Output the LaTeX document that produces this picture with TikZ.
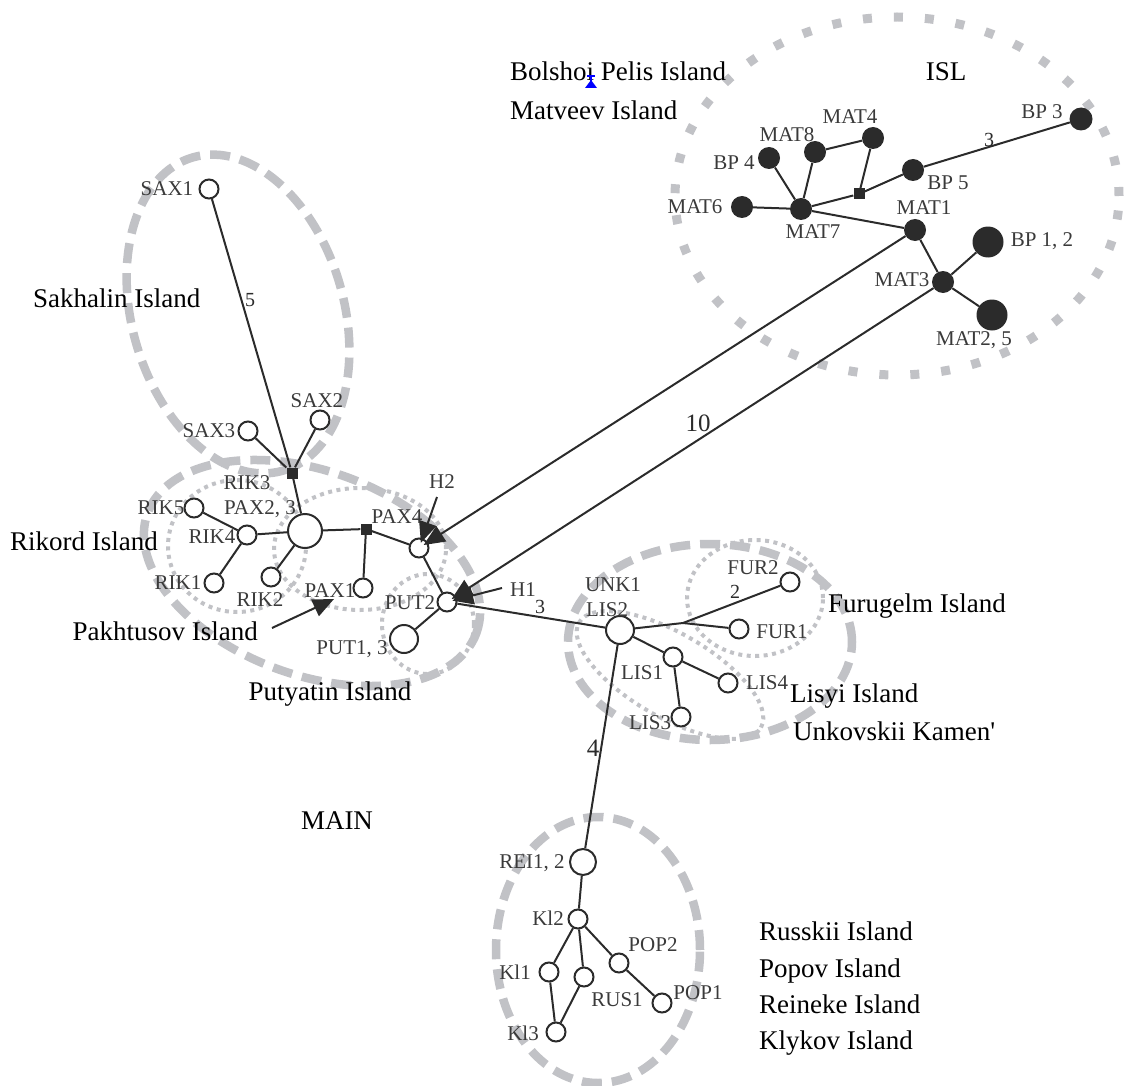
\documentclass[tikz,border=0pt]{standalone}
\usepackage{fontspec}
\setmainfont{Liberation Serif}
\usetikzlibrary{arrows.meta,calc}
\definecolor{ink}{HTML}{2B2B2B}
\definecolor{lab}{HTML}{3A3A3A}
\definecolor{halo}{HTML}{C1C2C6}
\begin{document}
\begin{tikzpicture}[x=1pt,y=-1pt,
  wn/.style={circle,draw=ink,fill=white,line width=2pt,inner sep=0pt,minimum size=19pt},
  bn/.style={circle,fill=ink,inner sep=0pt,minimum size=22pt},
  jn/.style={rectangle,fill=ink,inner sep=0pt,minimum size=11pt},
  lbl/.style={inner sep=0pt,text=lab,font=\fontsize{21}{21}\selectfont},
  isl/.style={inner sep=0pt,text=black,font=\fontsize{27}{27}\selectfont},
  num/.style={inner sep=0pt,text=ink,font=\fontsize{20}{20}\selectfont},
  bignum/.style={inner sep=0pt,text=ink,font=\fontsize{25}{25}\selectfont},
  edge/.style={draw=ink,line width=2pt},
  arr/.style={edge,-{Triangle[length=21pt,width=18pt]}},
  dashring/.style={draw=halo,line width=8.5pt,dash pattern=on 20pt off 10pt},
  dotring/.style={draw=halo,line width=4pt,dash pattern=on 4pt off 4.5pt},
  bigdot/.style={draw=halo,line width=9pt,dash pattern=on 9pt off 22pt}]
\useasboundingbox (0,0) rectangle (1124,1086);

% ---------- group outlines ----------
\draw[bigdot] (897,196) ellipse [x radius=222pt, y radius=179pt];
\draw[dashring, rotate around={-74:(238,314)}] (238,314) ellipse [x radius=163pt, y radius=106pt];
\draw[dashring, rotate around={-20:(312,573)}] (312,573) ellipse [x radius=175pt, y radius=102pt];
\draw[dotring] (237,546) ellipse [x radius=69pt, y radius=66pt];
\draw[dotring] (360,549) ellipse [x radius=86pt, y radius=61pt];
\draw[dotring] (428,624) ellipse [x radius=46pt, y radius=50pt];
\draw[dashring] (710,642) ellipse [x radius=142pt, y radius=98pt];
\draw[dotring] (755,598) ellipse [x radius=68pt, y radius=58pt];
\draw[dotring, rotate around={-30:(670,675)}] (670,675) ellipse [x radius=105pt, y radius=42pt];
\draw[dashring] (598,950) ellipse [x radius=102pt, y radius=133pt];

% ---------- ISL nodes ----------
\node[bn,minimum size=23pt] (bp3) at (1081,119) {};
\node[bn] (mat4) at (873,138) {};
\node[bn] (mat8) at (815,152) {};
\node[bn] (bp4) at (769,158) {};
\node[bn] (bp5) at (913,170) {};
\node[jn] (s2) at (859,194) {};
\node[bn] (mat6) at (742,207) {};
\node[bn] (mat7) at (801,209) {};
\node[bn] (mat1) at (915,230) {};
\node[bn,minimum size=31pt] (bp12) at (988,242) {};
\node[bn] (mat3) at (943,282) {};
\node[bn,minimum size=31pt] (mat25) at (992,315) {};

% ---------- MAIN nodes ----------
\node[wn] (sax1) at (209,189) {};
\node[wn] (sax3) at (248,431) {};
\node[wn] (sax2) at (320,420) {};
\node[jn] (s1) at (292,473) {};
\node[wn] (rik5) at (194,508) {};
\node[wn] (rik4) at (247,535) {};
\node[wn,minimum size=34pt] (pax23) at (305,531) {};
\node[wn] (rik1) at (214,583) {};
\node[wn] (rik2) at (271,577) {};
\node[jn] (s3) at (366,529) {};
\node[wn] (pax1) at (363,588) {};
\node[wn] (pax4) at (419,548) {};
\node[wn] (put2) at (447,602) {};
\node[wn,minimum size=28pt] (put13) at (404,639) {};
\node[wn,minimum size=28pt] (lis2) at (620,630) {};
\coordinate (fj) at (683,623);
\node[wn] (fur2) at (790,582) {};
\node[wn] (fur1) at (739,629) {};
\node[wn] (lis1) at (673,657) {};
\node[wn] (lis4) at (728,683) {};
\node[wn] (lis3) at (681,717) {};
\node[wn,minimum size=26pt] (rei) at (583,862) {};
\node[wn] (kl2) at (578,919) {};
\node[wn] (kl1) at (549,972) {};
\node[wn] (rus1) at (584,977) {};
\node[wn] (pop2) at (619,963) {};
\node[wn] (pop1) at (662,1003) {};
\node[wn] (kl3) at (556,1032) {};

% ---------- edges ----------
\draw[edge] (mat7) -- (mat6);
\draw[edge] (mat7) -- (bp4);
\draw[edge] (mat7) -- (mat8);
\draw[edge] (mat8) -- (mat4);
\draw[edge] (mat4) -- (s2);
\draw[edge] (mat7) -- (s2);
\draw[edge] (s2) -- (bp5);
\draw[edge] (bp5) -- (bp3);
\draw[edge] (mat7) -- (mat1);
\draw[edge] (mat1) -- (mat3);
\draw[edge] (mat3) -- (bp12);
\draw[edge] (mat3) -- (mat25);

\draw[edge] (sax1) -- (s1);
\draw[edge] (sax3) -- (s1);
\draw[edge] (sax2) -- (s1);
\draw[edge] (s1) -- (pax23);
\draw[edge] (rik5) -- (rik4);
\draw[edge] (rik4) -- (pax23);
\draw[edge] (rik4) -- (rik1);
\draw[edge] (pax23) -- (rik2);
\draw[edge] (pax23) -- (s3);
\draw[edge] (s3) -- (pax1);
\draw[edge] (s3) -- (pax4);
\draw[edge] (pax4) -- (put2);
\draw[edge] (put2) -- (put13);
\draw[edge] (put2) -- (lis2);
\draw[edge] (lis2) -- (fj) -- (fur1);
\draw[edge] (fj) -- (fur2);
\draw[edge] (lis2) -- (lis1);
\draw[edge] (lis1) -- (lis4);
\draw[edge] (lis1) -- (lis3);
\draw[edge] (lis2) -- (rei);
\draw[edge] (rei) -- (kl2);
\draw[edge] (kl2) -- (kl1);
\draw[edge] (kl2) -- (rus1);
\draw[edge] (kl2) -- (pop2);
\draw[edge] (pop2) -- (pop1);
\draw[edge] (kl1) -- (kl3);
\draw[edge] (rus1) -- (kl3);

% ---------- arrows ----------
\coordinate (h2s) at (437,497);
\coordinate (h1s) at (502,588);
\coordinate (pks) at (272,628);
\coordinate (pkt) at (334,599);
\draw[arr,shorten >=-5pt] (mat1) -- (pax4);
\draw[arr,shorten >=-5pt] (mat3) -- (put2);
\draw[arr,shorten >=-5pt] (h2s) -- (pax4);
\draw[arr,shorten >=-5pt] (h1s) -- (put2);
\draw[arr] (pks) -- (pkt);

% ---------- edge numbers ----------
\node[num] (n3a) at (989,140) {3};
\node[num] (n5) at (250,300) {5};
\node[bignum] (n10) at (698,423) {10};
\node[num] (n3b) at (540,607) {3};
\node[num] (n2) at (735,592) {2};
\node[bignum] (n4) at (593,748) {4};

% ---------- node labels ----------
\node[lbl] (tbp3) at (1042,112) {BP 3};
\node[lbl] (tmat4) at (850,117) {MAT4};
\node[lbl] (tmat8) at (787,135) {MAT8};
\node[lbl] (tbp4) at (734,163) {BP 4};
\node[lbl] (tbp5) at (948,183) {BP 5};
\node[lbl] (tmat6) at (695,207) {MAT6};
\node[lbl] (tmat7) at (813,232) {MAT7};
\node[lbl] (tmat1) at (924,208) {MAT1};
\node[lbl] (tbp12) at (1042,241) {BP 1, 2};
\node[lbl] (tmat3) at (902,280) {MAT3};
\node[lbl] (tmat25) at (974,340) {MAT2, 5};

\node[lbl] (tsax1) at (167,189) {SAX1};
\node[lbl] (tsax3) at (209,431) {SAX3};
\node[lbl] (tsax2) at (317,401) {SAX2};
\node[lbl] (trik3) at (247,483) {RIK3};
\node[lbl] (trik5) at (161,508) {RIK5};
\node[lbl] (tpax23) at (260,509) {PAX2, 3};
\node[lbl] (trik4) at (212,537) {RIK4};
\node[lbl] (trik1) at (178,583) {RIK1};
\node[lbl] (trik2) at (260,600) {RIK2};
\node[lbl] (tpax1) at (330,591) {PAX1};
\node[lbl] (tpax4) at (397,517) {PAX4};
\node[lbl] (th2) at (442,482) {H2};
\node[lbl] (tput2) at (410,603) {PUT2};
\node[lbl] (tput13) at (352,649) {PUT1, 3};
\node[lbl] (th1) at (523,590) {H1};
\node[lbl] (tunk1) at (613,585) {UNK1};
\node[lbl] (tlis2) at (607,610) {LIS2};
\node[lbl] (tfur2) at (753,568) {FUR2};
\node[lbl] (tfur1) at (782,632) {FUR1};
\node[lbl] (tlis1) at (642,673) {LIS1};
\node[lbl] (tlis4) at (767,683) {LIS4};
\node[lbl] (tlis3) at (650,723) {LIS3};
\node[lbl] (trei) at (532,863) {REI1, 2};
\node[lbl] (tkl2) at (548,918) {Kl2};
\node[lbl] (tkl1) at (515,972) {Kl1};
\node[lbl] (trus1) at (617,1000) {RUS1};
\node[lbl] (tpop2) at (653,945) {POP2};
\node[lbl] (tpop1) at (698,993) {POP1};
\node[lbl] (tkl3) at (523,1033) {Kl3};

% ---------- island / group names ----------
\node[isl,anchor=base west] (bolshoi) at (510,81) {Bolshoi Pelis Island};
\node[isl,anchor=base west] (matveev) at (510,120) {Matveev Island};
\node[isl,anchor=base] (islname) at (946,81) {ISL};
\node[isl,anchor=base west] (sakh) at (33,307) {Sakhalin Island};
\node[isl,anchor=base east] (rik) at (158,550) {Rikord Island};
\node[isl,anchor=base east] (pakh) at (258,640) {Pakhtusov Island};
\node[isl,anchor=base] (puty) at (330,700) {Putyatin Island};
\node[isl,anchor=base] (mainname) at (337,829) {MAIN};
\node[isl,anchor=base west] (furu) at (828,612) {Furugelm Island};
\node[isl,anchor=base west] (lisyi) at (790,702) {Lisyi Island};
\node[isl,anchor=base west] (unk) at (793,740) {Unkovskii Kamen\textquotesingle};
\node[isl,anchor=base west] (russ) at (759,940) {Russkii Island};
\node[isl,anchor=base west] (popov) at (759,977) {Popov Island};
\node[isl,anchor=base west] (rein) at (759,1013) {Reineke Island};
\node[isl,anchor=base west] (klyk) at (759,1049) {Klykov Island};

% ---------- small blue mark ----------
\draw[blue,line width=1.3pt] (587,76) -- (595,76);
\draw[blue,line width=1.3pt] (591,76) -- (591,83);
\fill[blue] (585,88) -- (597,88) -- (591,80) -- cycle;
\end{tikzpicture}
\end{document}
